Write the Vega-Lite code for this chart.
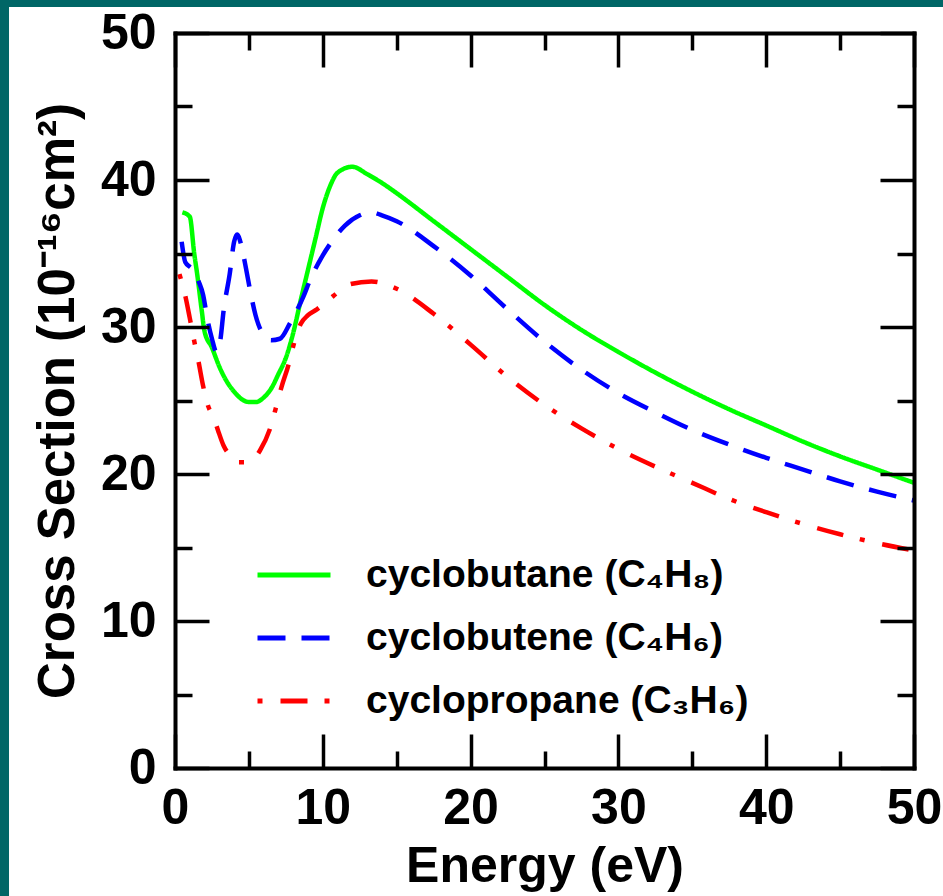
{
  "$schema": "https://vega.github.io/schema/vega-lite/v6.json",
  "width": 739,
  "height": 735,
  "autosize": {"type": "none"},
  "padding": {"left": 175, "top": 33, "right": 29, "bottom": 128},
  "background": "#006666",
  "config": {
    "view": {"stroke": null},
    "axis": {"grid": false, "domainColor": "black", "tickColor": "black", "labelColor": "black", "titleColor": "black", "labelFont": "Liberation Sans", "titleFont": "Liberation Sans", "labelFontWeight": "bold", "titleFontWeight": "bold", "labelFontSize": 50, "titleFontSize": 50, "domainWidth": 4, "tickWidth": 3.5, "domainCap": "square"}
  },
  "data": {"values": [
    {"m": "cyclobutane (C₄H₈)", "E": 0.5, "s": 37.8},
    {"m": "cyclobutane (C₄H₈)", "E": 1.0, "s": 37.5},
    {"m": "cyclobutane (C₄H₈)", "E": 1.3, "s": 35.0},
    {"m": "cyclobutane (C₄H₈)", "E": 1.5, "s": 33.6},
    {"m": "cyclobutane (C₄H₈)", "E": 1.8, "s": 31.2},
    {"m": "cyclobutane (C₄H₈)", "E": 2.0, "s": 29.7},
    {"m": "cyclobutane (C₄H₈)", "E": 2.5, "s": 28.6},
    {"m": "cyclobutane (C₄H₈)", "E": 3.0, "s": 27.3},
    {"m": "cyclobutane (C₄H₈)", "E": 3.5, "s": 26.3},
    {"m": "cyclobutane (C₄H₈)", "E": 4.0, "s": 25.6},
    {"m": "cyclobutane (C₄H₈)", "E": 4.5, "s": 25.1},
    {"m": "cyclobutane (C₄H₈)", "E": 5.0, "s": 24.9},
    {"m": "cyclobutane (C₄H₈)", "E": 5.5, "s": 24.9},
    {"m": "cyclobutane (C₄H₈)", "E": 6.0, "s": 25.2},
    {"m": "cyclobutane (C₄H₈)", "E": 6.5, "s": 25.8},
    {"m": "cyclobutane (C₄H₈)", "E": 7.0, "s": 26.8},
    {"m": "cyclobutane (C₄H₈)", "E": 7.5, "s": 27.9},
    {"m": "cyclobutane (C₄H₈)", "E": 8.0, "s": 29.6},
    {"m": "cyclobutane (C₄H₈)", "E": 8.5, "s": 31.8},
    {"m": "cyclobutane (C₄H₈)", "E": 9.0, "s": 33.9},
    {"m": "cyclobutane (C₄H₈)", "E": 9.5, "s": 36.0},
    {"m": "cyclobutane (C₄H₈)", "E": 10.0, "s": 38.1},
    {"m": "cyclobutane (C₄H₈)", "E": 10.5, "s": 39.6},
    {"m": "cyclobutane (C₄H₈)", "E": 11.0, "s": 40.5},
    {"m": "cyclobutane (C₄H₈)", "E": 12.0, "s": 40.9},
    {"m": "cyclobutane (C₄H₈)", "E": 13.0, "s": 40.4},
    {"m": "cyclobutane (C₄H₈)", "E": 14.0, "s": 39.8},
    {"m": "cyclobutane (C₄H₈)", "E": 15.0, "s": 39.1},
    {"m": "cyclobutane (C₄H₈)", "E": 17.5, "s": 37.2},
    {"m": "cyclobutane (C₄H₈)", "E": 20.0, "s": 35.3},
    {"m": "cyclobutane (C₄H₈)", "E": 22.5, "s": 33.4},
    {"m": "cyclobutane (C₄H₈)", "E": 25.0, "s": 31.5},
    {"m": "cyclobutane (C₄H₈)", "E": 27.5, "s": 29.8},
    {"m": "cyclobutane (C₄H₈)", "E": 30.0, "s": 28.3},
    {"m": "cyclobutane (C₄H₈)", "E": 32.5, "s": 26.9},
    {"m": "cyclobutane (C₄H₈)", "E": 35.0, "s": 25.6},
    {"m": "cyclobutane (C₄H₈)", "E": 37.5, "s": 24.4},
    {"m": "cyclobutane (C₄H₈)", "E": 40.0, "s": 23.3},
    {"m": "cyclobutane (C₄H₈)", "E": 42.5, "s": 22.2},
    {"m": "cyclobutane (C₄H₈)", "E": 45.0, "s": 21.2},
    {"m": "cyclobutane (C₄H₈)", "E": 47.5, "s": 20.3},
    {"m": "cyclobutane (C₄H₈)", "E": 50.0, "s": 19.4},
    {"m": "cyclobutene (C₄H₆)", "E": 0.45, "s": 35.8},
    {"m": "cyclobutene (C₄H₆)", "E": 0.7, "s": 34.4},
    {"m": "cyclobutene (C₄H₆)", "E": 1.0, "s": 34.1},
    {"m": "cyclobutene (C₄H₆)", "E": 1.3, "s": 33.8},
    {"m": "cyclobutene (C₄H₆)", "E": 1.6, "s": 33.1},
    {"m": "cyclobutene (C₄H₆)", "E": 1.9, "s": 32.2},
    {"m": "cyclobutene (C₄H₆)", "E": 2.2, "s": 30.5},
    {"m": "cyclobutene (C₄H₆)", "E": 2.5, "s": 29.2},
    {"m": "cyclobutene (C₄H₆)", "E": 2.8, "s": 28.3},
    {"m": "cyclobutene (C₄H₆)", "E": 3.05, "s": 29.0},
    {"m": "cyclobutene (C₄H₆)", "E": 3.3, "s": 31.2},
    {"m": "cyclobutene (C₄H₆)", "E": 3.7, "s": 33.6},
    {"m": "cyclobutene (C₄H₆)", "E": 4.0, "s": 35.8},
    {"m": "cyclobutene (C₄H₆)", "E": 4.2, "s": 36.3},
    {"m": "cyclobutene (C₄H₆)", "E": 4.45, "s": 35.7},
    {"m": "cyclobutene (C₄H₆)", "E": 4.8, "s": 34.0},
    {"m": "cyclobutene (C₄H₆)", "E": 5.1, "s": 32.4},
    {"m": "cyclobutene (C₄H₆)", "E": 5.45, "s": 30.8},
    {"m": "cyclobutene (C₄H₆)", "E": 5.8, "s": 29.8},
    {"m": "cyclobutene (C₄H₆)", "E": 6.5, "s": 29.1},
    {"m": "cyclobutene (C₄H₆)", "E": 7.1, "s": 29.2},
    {"m": "cyclobutene (C₄H₆)", "E": 7.8, "s": 30.3},
    {"m": "cyclobutene (C₄H₆)", "E": 8.7, "s": 32.1},
    {"m": "cyclobutene (C₄H₆)", "E": 9.1, "s": 33.1},
    {"m": "cyclobutene (C₄H₆)", "E": 9.9, "s": 34.7},
    {"m": "cyclobutene (C₄H₆)", "E": 10.6, "s": 35.8},
    {"m": "cyclobutene (C₄H₆)", "E": 11.5, "s": 36.9},
    {"m": "cyclobutene (C₄H₆)", "E": 12.5, "s": 37.6},
    {"m": "cyclobutene (C₄H₆)", "E": 13.3, "s": 37.8},
    {"m": "cyclobutene (C₄H₆)", "E": 14.0, "s": 37.6},
    {"m": "cyclobutene (C₄H₆)", "E": 15.0, "s": 37.2},
    {"m": "cyclobutene (C₄H₆)", "E": 17.5, "s": 35.5},
    {"m": "cyclobutene (C₄H₆)", "E": 20.0, "s": 33.5},
    {"m": "cyclobutene (C₄H₆)", "E": 22.5, "s": 31.2},
    {"m": "cyclobutene (C₄H₆)", "E": 25.0, "s": 29.0},
    {"m": "cyclobutene (C₄H₆)", "E": 27.5, "s": 27.1},
    {"m": "cyclobutene (C₄H₆)", "E": 30.0, "s": 25.5},
    {"m": "cyclobutene (C₄H₆)", "E": 32.5, "s": 24.2},
    {"m": "cyclobutene (C₄H₆)", "E": 35.0, "s": 23.0},
    {"m": "cyclobutene (C₄H₆)", "E": 37.5, "s": 22.0},
    {"m": "cyclobutene (C₄H₆)", "E": 40.0, "s": 21.1},
    {"m": "cyclobutene (C₄H₆)", "E": 42.5, "s": 20.3},
    {"m": "cyclobutene (C₄H₆)", "E": 45.0, "s": 19.5},
    {"m": "cyclobutene (C₄H₆)", "E": 47.5, "s": 18.8},
    {"m": "cyclobutene (C₄H₆)", "E": 50.0, "s": 18.2},
    {"m": "cyclopropane (C₃H₆)", "E": 0.3, "s": 33.6},
    {"m": "cyclopropane (C₃H₆)", "E": 0.7, "s": 32.1},
    {"m": "cyclopropane (C₃H₆)", "E": 1.0, "s": 30.6},
    {"m": "cyclopropane (C₃H₆)", "E": 1.25, "s": 29.3},
    {"m": "cyclopropane (C₃H₆)", "E": 1.6, "s": 27.6},
    {"m": "cyclopropane (C₃H₆)", "E": 1.9, "s": 26.0},
    {"m": "cyclopropane (C₃H₆)", "E": 2.25, "s": 24.6},
    {"m": "cyclopropane (C₃H₆)", "E": 2.6, "s": 23.9},
    {"m": "cyclopropane (C₃H₆)", "E": 2.9, "s": 23.0},
    {"m": "cyclopropane (C₃H₆)", "E": 3.3, "s": 21.9},
    {"m": "cyclopropane (C₃H₆)", "E": 3.8, "s": 21.2},
    {"m": "cyclopropane (C₃H₆)", "E": 4.3, "s": 20.8},
    {"m": "cyclopropane (C₃H₆)", "E": 4.8, "s": 20.8},
    {"m": "cyclopropane (C₃H₆)", "E": 5.3, "s": 21.0},
    {"m": "cyclopropane (C₃H₆)", "E": 5.75, "s": 21.6},
    {"m": "cyclopropane (C₃H₆)", "E": 6.4, "s": 23.0},
    {"m": "cyclopropane (C₃H₆)", "E": 6.8, "s": 24.4},
    {"m": "cyclopropane (C₃H₆)", "E": 7.2, "s": 25.9},
    {"m": "cyclopropane (C₃H₆)", "E": 7.7, "s": 27.5},
    {"m": "cyclopropane (C₃H₆)", "E": 8.0, "s": 28.7},
    {"m": "cyclopropane (C₃H₆)", "E": 8.5, "s": 30.2},
    {"m": "cyclopropane (C₃H₆)", "E": 9.0, "s": 30.8},
    {"m": "cyclopropane (C₃H₆)", "E": 9.6, "s": 31.2},
    {"m": "cyclopropane (C₃H₆)", "E": 10.7, "s": 32.1},
    {"m": "cyclopropane (C₃H₆)", "E": 11.8, "s": 32.9},
    {"m": "cyclopropane (C₃H₆)", "E": 13.3, "s": 33.1},
    {"m": "cyclopropane (C₃H₆)", "E": 15.0, "s": 32.6},
    {"m": "cyclopropane (C₃H₆)", "E": 17.5, "s": 30.9},
    {"m": "cyclopropane (C₃H₆)", "E": 20.0, "s": 28.8},
    {"m": "cyclopropane (C₃H₆)", "E": 22.5, "s": 26.6},
    {"m": "cyclopropane (C₃H₆)", "E": 25.0, "s": 24.7},
    {"m": "cyclopropane (C₃H₆)", "E": 27.5, "s": 23.1},
    {"m": "cyclopropane (C₃H₆)", "E": 30.0, "s": 21.7},
    {"m": "cyclopropane (C₃H₆)", "E": 32.5, "s": 20.5},
    {"m": "cyclopropane (C₃H₆)", "E": 35.0, "s": 19.4},
    {"m": "cyclopropane (C₃H₆)", "E": 37.5, "s": 18.3},
    {"m": "cyclopropane (C₃H₆)", "E": 40.0, "s": 17.4},
    {"m": "cyclopropane (C₃H₆)", "E": 42.5, "s": 16.6},
    {"m": "cyclopropane (C₃H₆)", "E": 45.0, "s": 15.9},
    {"m": "cyclopropane (C₃H₆)", "E": 47.5, "s": 15.3},
    {"m": "cyclopropane (C₃H₆)", "E": 50.0, "s": 14.8}
  ]},
  "layer": [
    {
      "data": {"values": [{}]},
      "mark": {"type": "rect", "color": "white", "clip": false},
      "encoding": {
        "x": {"datum": -11.23, "type": "quantitative", "scale": {"domain": [0, 50], "nice": false}, "axis": null},
        "x2": {"datum": 53},
        "y": {"datum": -10, "type": "quantitative", "scale": {"domain": [0, 50], "nice": false}, "axis": null},
        "y2": {"datum": 51.77}
      }
    },
    {
      "mark": {"type": "line", "strokeWidth": 4.5, "interpolate": "monotone"},
      "encoding": {
        "x": {"field": "E", "type": "quantitative", "scale": {"domain": [0, 50], "nice": false},
              "axis": {"orient": "bottom", "zindex": 1, "values": [0, 10, 20, 30, 40, 50], "format": "d", "ticks": false, "domain": true, "labelPadding": 15, "labelFlush": false, "labelOverlap": false, "title": "Energy (eV)", "titlePadding": 8}},
        "y": {"field": "s", "type": "quantitative", "scale": {"domain": [0, 50], "nice": false},
              "axis": {"orient": "left", "zindex": 1, "values": [0, 10, 20, 30, 40, 50], "format": "d", "ticks": false, "domain": true, "labelPadding": 19, "labelFlush": false, "labelOverlap": false, "title": "Cross Section (10⁻¹⁶cm²)", "titlePadding": 16, "titleFontSize": 51}},
        "color": {"field": "m", "type": "nominal",
                  "scale": {"domain": ["cyclobutane (C₄H₈)", "cyclobutene (C₄H₆)", "cyclopropane (C₃H₆)"], "range": ["#00ff00", "#0000ff", "#ff0000"]},
                  "legend": {"orient": "none", "legendX": 80, "legendY": 503, "title": null, "padding": 0, "symbolType": "stroke", "symbolSize": 5329, "symbolStrokeWidth": 5, "labelFontSize": 39, "labelFont": "Liberation Sans", "labelFontWeight": "bold", "labelColor": "black", "labelOffset": 33, "rowPadding": 4, "labelLimit": 800}},
        "strokeDash": {"field": "m", "type": "nominal",
                  "scale": {"domain": ["cyclobutane (C₄H₈)", "cyclobutene (C₄H₆)", "cyclopropane (C₃H₆)"], "range": [[1, 0], [28, 16], [5, 18, 27, 17]]},
                  "legend": {"orient": "none", "legendX": 80, "legendY": 503, "title": null, "padding": 0, "symbolType": "stroke", "symbolSize": 5329, "symbolStrokeWidth": 5, "labelFontSize": 39, "labelFont": "Liberation Sans", "labelFontWeight": "bold", "labelColor": "black", "labelOffset": 33, "rowPadding": 4, "labelLimit": 800}}
      }
    },
    {
      "mark": {"type": "point", "opacity": 0},
      "encoding": {
        "x": {"field": "E", "type": "quantitative", "scale": {"domain": [0, 50], "nice": false},
              "axis": {"orient": "bottom", "zindex": 1, "values": [0, 10, 20, 30, 40, 50], "labels": false, "domain": false, "ticks": true, "tickSize": -34, "title": null}},
        "y": {"field": "s", "type": "quantitative", "scale": {"domain": [0, 50], "nice": false},
              "axis": {"orient": "left", "zindex": 1, "values": [0, 10, 20, 30, 40, 50], "labels": false, "domain": false, "ticks": true, "tickSize": -34, "title": null}}
      }
    },
    {
      "mark": {"type": "point", "opacity": 0},
      "encoding": {
        "x": {"field": "E", "type": "quantitative", "scale": {"domain": [0, 50], "nice": false},
              "axis": {"orient": "bottom", "zindex": 1, "values": [5, 15, 25, 35, 45], "labels": false, "domain": false, "ticks": true, "tickSize": -17, "title": null}},
        "y": {"field": "s", "type": "quantitative", "scale": {"domain": [0, 50], "nice": false},
              "axis": {"orient": "left", "zindex": 1, "values": [5, 15, 25, 35, 45], "labels": false, "domain": false, "ticks": true, "tickSize": -17, "title": null}}
      }
    },
    {
      "mark": {"type": "point", "opacity": 0},
      "encoding": {
        "x": {"field": "E", "type": "quantitative", "scale": {"domain": [0, 50], "nice": false},
              "axis": {"orient": "top", "zindex": 1, "values": [0, 10, 20, 30, 40, 50], "labels": false, "domain": true, "ticks": true, "tickSize": -34, "title": null}},
        "y": {"field": "s", "type": "quantitative", "scale": {"domain": [0, 50], "nice": false},
              "axis": {"orient": "right", "zindex": 1, "values": [0, 10, 20, 30, 40, 50], "labels": false, "domain": true, "ticks": true, "tickSize": -34, "title": null}}
      }
    },
    {
      "mark": {"type": "point", "opacity": 0},
      "encoding": {
        "x": {"field": "E", "type": "quantitative", "scale": {"domain": [0, 50], "nice": false},
              "axis": {"orient": "top", "zindex": 1, "values": [5, 15, 25, 35, 45], "labels": false, "domain": false, "ticks": true, "tickSize": -17, "title": null}},
        "y": {"field": "s", "type": "quantitative", "scale": {"domain": [0, 50], "nice": false},
              "axis": {"orient": "right", "zindex": 1, "values": [5, 15, 25, 35, 45], "labels": false, "domain": false, "ticks": true, "tickSize": -17, "title": null}}
      }
    }
  ],
  "resolve": {"axis": {"x": "independent", "y": "independent"}}
}
